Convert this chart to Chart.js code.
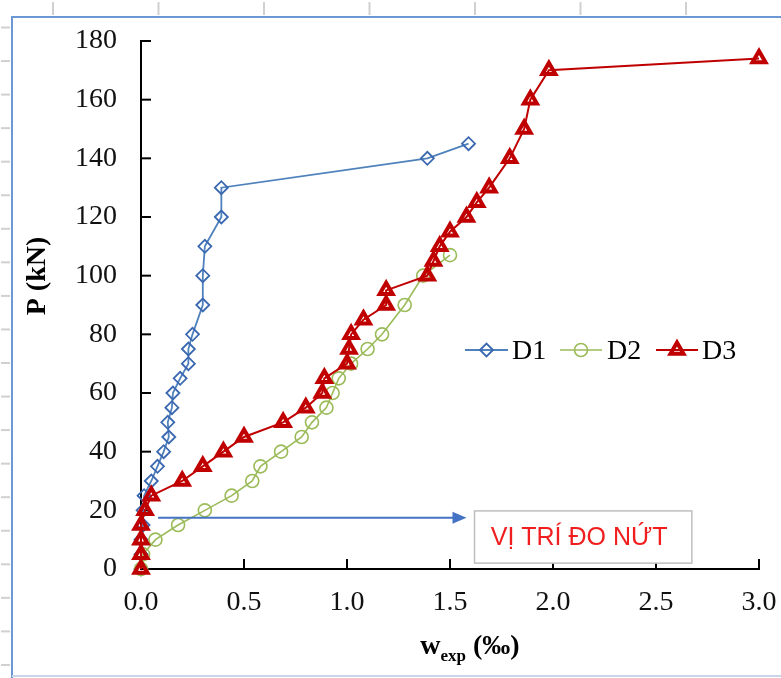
<!DOCTYPE html>
<html>
<head>
<meta charset="utf-8">
<script src="https://cdn.jsdelivr.net/npm/chart.js@4.4.1/dist/chart.umd.min.js"></script>
<style>
	html, body { margin: 0; padding: 0; background: #fff; }
	#wrap { width: 781px; height: 678px; }
</style>
</head>
<body>
<div id="wrap"><canvas id="chart" width="781" height="678"></canvas></div>
<script>
"use strict";

// crack width w (‰) against load P (kN)
var d1W = [0, 0, 0, 0.01, 0.01, 0.015, 0.05, 0.08, 0.11, 0.135, 0.13, 0.15, 0.155, 0.19, 0.23, 0.23, 0.25, 0.30, 0.30, 0.31, 0.39, 0.39, 1.39, 1.59];
var d1P = [0, 5, 10, 15, 20, 25, 30, 35, 40, 45, 50, 55, 60, 65, 70, 75, 80, 90, 100, 110, 120, 130, 140, 145];

var d2W = [0, 0.01, 0.07, 0.18, 0.31, 0.44, 0.54, 0.58, 0.68, 0.78, 0.83, 0.90, 0.93, 0.96, 1.02, 1.10, 1.17, 1.28, 1.37, 1.50];
var d2P = [0, 5, 10, 15, 20, 25, 30, 35, 40, 45, 50, 55, 60, 65, 70, 75, 80, 90, 100, 107];

var d3W = [0, 0, 0, 0, 0.02, 0.05, 0.2, 0.3, 0.4, 0.5, 0.69, 0.8, 0.88, 0.89, 1.0, 1.01, 1.02, 1.08, 1.19, 1.19, 1.39, 1.42, 1.45, 1.5, 1.58, 1.63, 1.69, 1.79, 1.86, 1.89, 1.98, 3.0];
var d3P = [0, 5, 10, 15, 20, 25, 30, 35, 40, 45, 50, 55, 60, 65, 70, 75, 80, 85, 90, 95, 100, 105, 110, 115, 120, 125, 130, 140, 150, 160, 170, 174];

var seriesNames = ['D1', 'D2', 'D3'];
var xTickLabels = ['0.0', '0.5', '1.0', '1.5', '2.0', '2.5', '3.0'];
var yTickLabels = ['0', '20', '40', '60', '80', '100', '120', '140', '160', '180'];
var noteText = 'VỊ TRÍ ĐO NỨT';

var serif = '"Liberation Serif", "Times New Roman", serif';

function toPoints(ws, ps) {
	return ws.map(function (w, i) { return { x: w, y: ps[i] }; });
}

// frame and ruler marks around the picture
var pageDecor = {
	id: 'pageDecor',
	beforeDraw: function (chart) {
		var ctx = chart.ctx;
		ctx.save();
		ctx.fillStyle = '#fff';
		ctx.fillRect(0, 0, chart.width, chart.height);
		ctx.strokeStyle = '#d0d0d0';
		ctx.lineWidth = 2;
		for (var x = 53; x < chart.width; x += 105.5) {
			ctx.beginPath(); ctx.moveTo(x, 2); ctx.lineTo(x, 15); ctx.stroke();
		}
		for (var y = 27.5; y < chart.height - 5; y += 33.55) {
			ctx.beginPath(); ctx.moveTo(1, y); ctx.lineTo(10, y); ctx.stroke();
		}
		ctx.strokeStyle = '#6b98d3';
		ctx.beginPath();
		ctx.moveTo(12, chart.height);
		ctx.lineTo(12, 17);
		ctx.lineTo(chart.width, 17);
		ctx.stroke();
		ctx.strokeStyle = '#c9d6ea';
		ctx.beginPath();
		ctx.moveTo(12, 676);
		ctx.lineTo(chart.width, 676);
		ctx.stroke();
		ctx.restore();
	}
};

// tick marks pointing into the plot
var innerTicks = {
	id: 'innerTicks',
	beforeDatasetsDraw: function (chart) {
		var ctx = chart.ctx, a = chart.chartArea;
		var xs = chart.scales.x, ys = chart.scales.y;
		ctx.save();
		ctx.strokeStyle = '#000';
		ctx.lineWidth = 2;
		ys.ticks.forEach(function (t) {
			var py = ys.getPixelForValue(t.value);
			ctx.beginPath(); ctx.moveTo(a.left, py); ctx.lineTo(a.left + 10, py); ctx.stroke();
		});
		xs.ticks.forEach(function (t) {
			var px = xs.getPixelForValue(t.value);
			ctx.beginPath(); ctx.moveTo(px, a.bottom); ctx.lineTo(px, a.bottom - 10); ctx.stroke();
		});
		ctx.restore();
	}
};

// arrow and the note box
var crackNote = {
	id: 'crackNote',
	afterDatasetsDraw: function (chart) {
		var ctx = chart.ctx;
		var xs = chart.scales.x, ys = chart.scales.y;
		var y = ys.getPixelForValue(17.5);
		var x0 = xs.getPixelForValue(0.083);
		var x1 = xs.getPixelForValue(1.58);
		ctx.save();
		ctx.strokeStyle = '#4472c4';
		ctx.fillStyle = '#4472c4';
		ctx.lineWidth = 2;
		ctx.beginPath(); ctx.moveTo(x0, y); ctx.lineTo(x1 - 12, y); ctx.stroke();
		ctx.beginPath();
		ctx.moveTo(x1, y);
		ctx.lineTo(x1 - 14, y - 6);
		ctx.lineTo(x1 - 14, y + 6);
		ctx.closePath();
		ctx.fill();

		var bl = xs.getPixelForValue(1.619), br = xs.getPixelForValue(2.674);
		var bt = ys.getPixelForValue(19.8), bb = ys.getPixelForValue(2.0);
		ctx.fillStyle = '#fff';
		ctx.fillRect(bl, bt, br - bl, bb - bt);
		ctx.strokeStyle = '#bfbfbf';
		ctx.lineWidth = 1.5;
		ctx.strokeRect(bl, bt, br - bl, bb - bt);
		ctx.fillStyle = '#f01e1e';
		ctx.font = '25px "Liberation Sans", Arial, sans-serif';
		ctx.textAlign = 'center';
		ctx.textBaseline = 'middle';
		ctx.fillText(noteText, (bl + br) / 2 - 4, (bt + bb) / 2 + 1);
		ctx.restore();
	}
};

// axis titles and the legend inside the plot
var titlesAndLegend = {
	id: 'titlesAndLegend',
	afterDraw: function (chart) {
		var ctx = chart.ctx;
		ctx.save();
		ctx.fillStyle = '#000';

		// y title
		ctx.save();
		ctx.translate(38, 276);
		ctx.rotate(-Math.PI / 2);
		ctx.font = 'bold 28px ' + serif;
		ctx.textAlign = 'center';
		ctx.textBaseline = 'middle';
		ctx.fillText('P (kN)', 0, 0);
		ctx.restore();

		// x title with subscript
		var big = 'bold 28px ' + serif, small = 'bold 17px ' + serif;
		ctx.font = big; var wW = ctx.measureText('w').width;
		ctx.font = small; var wSub = ctx.measureText('exp').width;
		ctx.font = big; var wRest = ctx.measureText(' (‰)').width;
		var start = 470 - (wW + wSub + wRest) / 2;
		ctx.textAlign = 'left';
		ctx.textBaseline = 'alphabetic';
		ctx.font = big; ctx.fillText('w', start, 654);
		ctx.font = small; ctx.fillText('exp', start + wW, 661);
		ctx.font = big; ctx.fillText(' (‰)', start + wW + wSub, 654);

		// legend
		var items = [
			{ x0: 465, x1: 508, tx: 512 },
			{ x0: 560, x1: 602, tx: 607 },
			{ x0: 656, x1: 698, tx: 702 }
		];
		var ly = 350;
		chart.data.datasets.forEach(function (ds, i) {
			var it = items[i];
			ctx.strokeStyle = ds.borderColor;
			ctx.lineWidth = ds.borderWidth;
			ctx.beginPath(); ctx.moveTo(it.x0, ly); ctx.lineTo(it.x1, ly); ctx.stroke();
			ctx.strokeStyle = ds.pointBorderColor;
			ctx.fillStyle = 'rgba(255,255,255,0)';
			ctx.lineWidth = ds.pointBorderWidth;
			Chart.helpers.drawPoint(ctx, {
				pointStyle: ds.pointStyle,
				radius: ds.pointRadius,
				borderWidth: ds.pointBorderWidth,
				rotation: 0
			}, (it.x0 + it.x1) / 2, ly);
			ctx.fillStyle = '#000';
			ctx.font = '28px ' + serif;
			ctx.textAlign = 'left';
			ctx.textBaseline = 'alphabetic';
			ctx.fillText(ds.label, it.tx, ly + 9);
		});
		ctx.restore();
	}
};

var context = document.getElementById('chart');
var myChart = new Chart(context, {
	type: 'scatter',
	data: {
		datasets: [{
			label: seriesNames[0],
			data: toPoints(d1W, d1P),
			showLine: true,
			borderColor: '#4f81bd',
			borderWidth: 1.8,
			pointStyle: 'rectRot',
			pointRadius: 6.5,
			pointBorderWidth: 1.8,
			pointBorderColor: '#3a68b0',
			pointBackgroundColor: 'rgba(255,255,255,0)',
			order: 2,
			clip: false
		}, {
			label: seriesNames[1],
			data: toPoints(d2W, d2P),
			showLine: true,
			borderColor: '#9bbb59',
			borderWidth: 1.6,
			pointStyle: 'circle',
			pointRadius: 6.5,
			pointBorderWidth: 1.6,
			pointBorderColor: '#9bbb59',
			pointBackgroundColor: 'rgba(255,255,255,0)',
			order: 1,
			clip: false
		}, {
			label: seriesNames[2],
			data: toPoints(d3W, d3P),
			showLine: true,
			borderColor: '#c00000',
			borderWidth: 2,
			pointStyle: 'triangle',
			pointRadius: 7.5,
			pointBorderWidth: 4,
			pointBorderColor: '#c00000',
			pointBackgroundColor: 'rgba(255,255,255,0)',
			order: 0,
			clip: false
		}]
	},
	options: {
		responsive: false,
		animation: false,
		events: [],
		layout: { padding: { left: 0, top: 41, right: 22, bottom: 0 } },
		plugins: {
			legend: { display: false },
			tooltip: { enabled: false }
		},
		elements: { line: { tension: 0 } },
		scales: {
			x: {
				type: 'linear',
				min: 0,
				max: 3,
				afterBuildTicks: function (scale) {
					scale.ticks = xTickLabels.map(function (s) { return { value: parseFloat(s) }; });
				},
				afterFit: function (scale) {
					scale.height = 109;
					scale.paddingLeft = 0;
					scale.paddingRight = 0;
				},
				grid: { display: false, drawTicks: false },
				border: { display: true, color: '#000', width: 2 },
				ticks: {
					padding: 17,
					color: '#111',
					font: { family: serif, size: 28 },
					maxRotation: 0,
					callback: function (v, i) { return xTickLabels[i]; }
				}
			},
			y: {
				type: 'linear',
				min: 0,
				max: 180,
				afterBuildTicks: function (scale) {
					scale.ticks = yTickLabels.map(function (s) { return { value: parseFloat(s) }; });
				},
				afterFit: function (scale) { scale.width = 141; },
				grid: { display: false, drawTicks: false },
				border: { display: true, color: '#000', width: 2 },
				ticks: {
					padding: 24,
					color: '#111',
					font: { family: serif, size: 28 },
					callback: function (v, i) { return yTickLabels[i]; }
				}
			}
		}
	},
	plugins: [pageDecor, innerTicks, crackNote, titlesAndLegend]
});
</script>
</body>
</html>
